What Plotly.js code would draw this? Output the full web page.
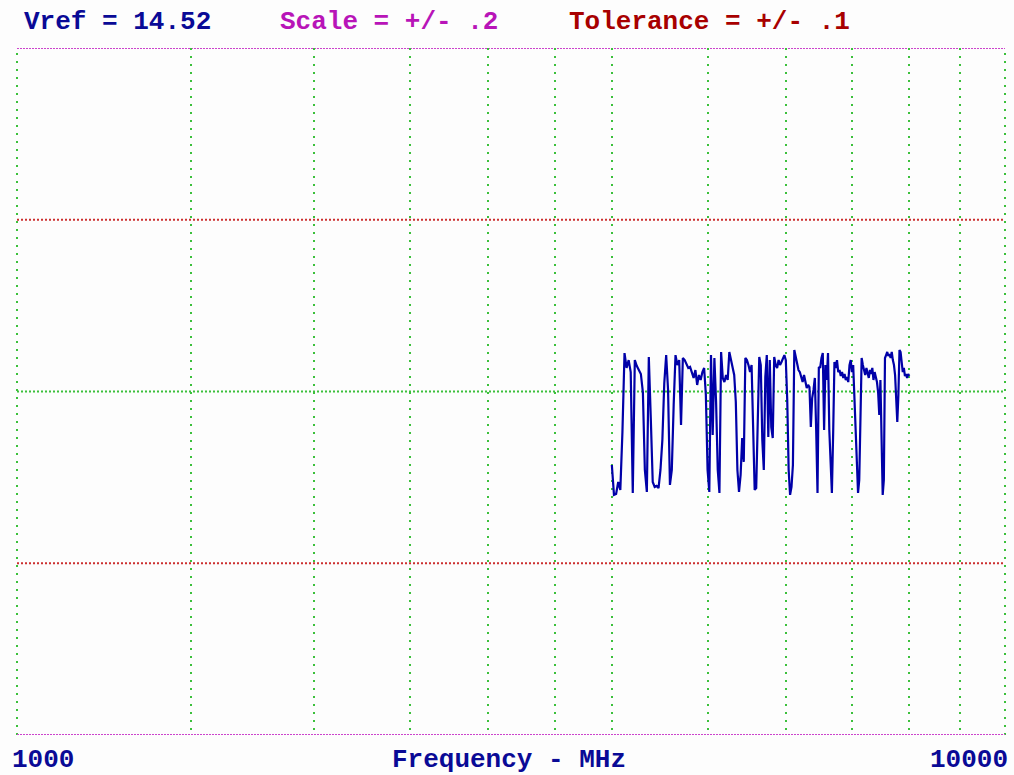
<!DOCTYPE html>
<html>
<head>
<meta charset="utf-8">
<script src="https://cdn.plot.ly/plotly-3.0.1.min.js"></script>
<style>
  html, body { margin: 0; padding: 0; background: #fdfdfd; }
  #chart { width: 1014px; height: 775px; }
</style>
</head>
<body>
<div id="chart"></div>
<script>
// ---- reference values ----
var vref = 14.52;
var scaleHalf = 0.2;
var tolHalf = 0.1;
var freqMin = 1000;
var freqMax = 10000;
var axisTitle = 'Frequency - MHz';
var edgeLabels = ['1000', '10000'];
var gridFreqs = [1500, 2000, 2500, 3000, 3500, 4000, 5000, 6000, 7000, 8000, 9000];

// ---- measured sweep (MHz) ----
var freqMHz = [
4000,4020,4040,4060,4080,4100,4120,4140,4160,4180,
4200,4220,4240,4260,4280,4300,4320,4340,4360,4380,
4400,4420,4440,4460,4480,4500,4520,4540,4560,4580,
4600,4620,4640,4660,4680,4700,4720,4740,4760,4780,
4800,4820,4840,4860,4880,4900,4920,4940,4960,4980,
5000,5020,5040,5060,5080,5100,5120,5140,5160,5180,
5200,5220,5240,5260,5280,5300,5320,5340,5360,5380,
5400,5420,5440,5460,5480,5500,5520,5540,5560,5580,
5600,5620,5640,5660,5680,5700,5720,5740,5760,5780,
5800,5820,5840,5860,5880,5900,5920,5940,5960,5980,
6000,6020,6040,6060,6080,6100,6120,6140,6160,6180,
6200,6220,6240,6260,6280,6300,6320,6340,6360,6380,
6400,6420,6440,6460,6480,6500,6520,6540,6560,6580,
6600,6620,6640,6660,6680,6700,6720,6740,6760,6780,
6800,6820,6840,6860,6880,6900,6920,6940,6960,6980,
7000,7020,7040,7060,7080,7100,7120,7140,7160,7180,
7200,7220,7240,7260,7280,7300,7320,7340,7360,7380,
7400,7420,7440,7460,7480,7500,7520,7540,7560,7580,
7600,7620,7640,7660,7680,7700,7720,7740,7760,7780,
7800,7820,7840,7860,7880,7900,7920,7940,7960,7980,
8000
];

// ---- measured values ----
var measured = [
14.4772,14.4598,14.4603,14.4673,14.4627,14.4964,14.5424,14.5337,14.5383,14.5313,
14.4609,14.5383,14.5348,14.5325,14.5302,14.5197,14.4743,14.4615,14.5401,14.5046,
14.4673,14.4644,14.4650,14.4638,14.4743,14.4918,14.5249,14.5412,14.5209,14.4656,
14.4743,14.5121,14.5412,14.5354,14.5383,14.5005,14.5395,14.5383,14.5354,14.5337,
14.5343,14.5313,14.5279,14.5325,14.5238,14.5296,14.5267,14.5313,14.5337,14.5180,
14.4743,14.4615,14.5412,14.4947,14.5395,14.5139,14.4743,14.4609,14.5430,14.5279,
14.5255,14.5296,14.5267,14.5430,14.5383,14.5354,14.5296,14.5139,14.4743,14.4615,
14.4714,14.4929,14.4790,14.5395,14.5383,14.5354,14.5313,14.5354,14.4935,14.4627,
14.4638,14.5092,14.5401,14.5354,14.4918,14.4743,14.5284,14.5412,14.4935,14.5383,
14.4993,14.4929,14.5401,14.5354,14.5337,14.5383,14.5354,14.5372,14.5395,14.5412,
14.5383,14.5151,14.4743,14.4598,14.4644,14.4772,14.5442,14.5395,14.5372,14.5325,
14.5313,14.5279,14.5255,14.5296,14.5249,14.5220,14.5238,14.5226,14.4993,14.5162,
14.5209,14.5279,14.4976,14.4609,14.5343,14.5337,14.5395,14.5424,14.4976,14.5354,
14.5267,14.5424,14.4976,14.4743,14.4609,14.4958,14.5372,14.5337,14.5383,14.5313,
14.5325,14.5290,14.5313,14.5279,14.5302,14.5267,14.5284,14.5255,14.5354,14.5383,
14.5313,14.5354,14.5151,14.4964,14.4743,14.4609,14.4685,14.5081,14.5395,14.5354,
14.5325,14.5296,14.5337,14.5313,14.5279,14.5325,14.5302,14.5337,14.5267,14.5313,
14.5290,14.5255,14.5197,14.5063,14.5267,14.4860,14.4598,14.4685,14.5395,14.5412,
14.5430,14.5407,14.5418,14.5395,14.5430,14.5383,14.5354,14.5296,14.5151,14.5022,
14.5180,14.5442,14.5430,14.5354,14.5313,14.5337,14.5290,14.5302,14.5279,14.5302,
14.5290
];

// ---- styles ----
var FONT = '"Liberation Mono", "DejaVu Sans Mono", monospace';
var BLUE = '#0a0a96';
var MAGENTA = '#b814b8';
var DARKRED = '#a80000';
var GRID_GREEN = '#3cc03c';
var TOL_RED = '#cc3030';
var EDGE_MAG = '#cc44cc';

function fmtShort(v) { return String(v).replace(/^0\./, '.'); }

var trace = {
  x: freqMHz,
  y: measured,
  type: 'scatter',
  mode: 'lines',
  line: { color: '#0000a8', width: 2.2 },
  hoverinfo: 'x+y'
};

var yTop = vref + scaleHalf, yBot = vref - scaleHalf;

function hline(y, color, dash) {
  return { type: 'line', xref: 'paper', yref: 'y', x0: 0, x1: 1, y0: y, y1: y,
           line: { color: color, width: 2, dash: dash }, layer: 'below' };
}
function vedge(xp) {
  return { type: 'line', xref: 'paper', yref: 'paper', x0: xp, x1: xp, y0: 0, y1: 1,
           line: { color: GRID_GREEN, width: 2, dash: '2px,6px' }, layer: 'below' };
}

var shapes = [
  vedge(0), vedge(1),
  hline(vref + tolHalf, TOL_RED, '2px,2px'),
  hline(vref - tolHalf, TOL_RED, '2px,2px'),
  hline(vref, GRID_GREEN, '2px,2px'),
  hline(yTop, EDGE_MAG, '2px,1px'),
  hline(yBot, EDGE_MAG, '2px,1px')
];

function ann(text, x, y, color, xanchor) {
  return { text: text, xref: 'paper', yref: 'paper', x: x, y: y,
           xanchor: xanchor || 'left', yanchor: 'middle', showarrow: false,
           font: { family: FONT, size: 26, color: color, weight: 'bold' } };
}

var annotations = [
  ann('Vref = ' + vref.toFixed(2), 0.0051, 1.0378, BLUE),
  ann('Scale = +/- ' + fmtShort(scaleHalf), 0.2642, 1.0378, MAGENTA),
  ann('Tolerance = +/- ' + fmtShort(tolHalf), 0.5567, 1.0378, DARKRED),
  ann(edgeLabels[0], -0.0071, -0.0364, BLUE),
  ann(axisTitle, 0.3775, -0.0364, BLUE),
  ann(edgeLabels[1], 1.0051, -0.0364, BLUE, 'right')
];

var layout = {
  width: 1014, height: 775,
  margin: { l: 17, r: 9, t: 48, b: 40, pad: 0 },
  paper_bgcolor: '#fdfdfd',
  plot_bgcolor: '#fdfdfd',
  showlegend: false,
  xaxis: {
    type: 'log',
    range: [Math.log10(freqMin), Math.log10(freqMax)],
    tickmode: 'array', tickvals: gridFreqs,
    showticklabels: false, ticks: '',
    showgrid: true, gridcolor: GRID_GREEN, gridwidth: 2, griddash: '2px,6px',
    zeroline: false, showline: false
  },
  yaxis: {
    range: [yBot, yTop],
    showticklabels: false, ticks: '',
    showgrid: false, zeroline: false, showline: false
  },
  shapes: shapes,
  annotations: annotations
};

Plotly.newPlot('chart', [trace], layout, { displayModeBar: false, staticPlot: true });
</script>
</body>
</html>
